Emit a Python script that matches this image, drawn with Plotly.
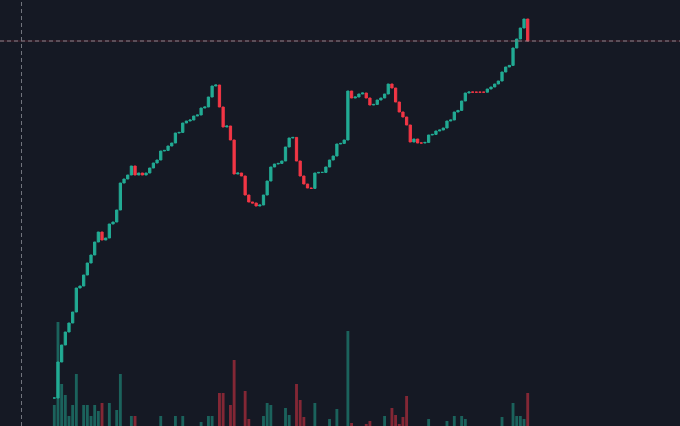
import plotly.graph_objects as go

# candle closes, one per bar (opens = previous close)
closes = [
    101.0, 119.0, 127.5, 134.0, 138.5, 144.0, 156.0, 157.0, 162.5, 168.5,
    172.5, 179.0, 184.0, 180.0, 181.0, 188.0, 189.0, 195.0, 208.5, 210.5,
    212.5, 217.0, 212.5, 213.5, 212.5, 213.5, 216.0, 218.5, 220.0, 224.5,
    224.8, 227.0, 228.5, 233.5, 233.8, 238.5, 239.5, 240.0, 242.0, 242.5,
    246.0, 246.5, 251.5, 257.0, 257.5, 246.5, 236.5, 237.0, 230.0, 213.0,
    213.5, 212.0, 202.5, 199.0, 198.5, 197.0, 197.5, 202.5, 209.5, 216.5,
    218.0, 218.3, 219.5, 226.5, 231.0, 231.3, 219.5, 212.0, 208.0, 206.0,
    205.8, 213.5, 213.8, 213.8, 216.5, 220.0, 222.0, 228.0, 228.3, 230.0,
    254.5, 251.0, 251.5, 253.0, 253.5, 251.0, 247.5, 247.8, 250.0, 251.0,
    253.0, 258.0, 256.0, 249.0, 244.0, 241.5, 237.5, 229.0, 230.5, 228.5,
    228.5, 228.8, 232.5, 232.8, 234.5, 235.0, 236.0, 239.5, 240.0, 244.0,
    244.8, 249.5, 253.5, 254.0, 253.9, 253.9, 253.9, 253.9, 255.5, 256.5,
    258.0, 259.5, 264.0, 266.5, 267.3, 276.0, 280.5, 286.0, 290.5, 279.5,
]
first_open = 101.0

volumes = [
    1080, 4400, 1920, 1480, 640, 1080, 2320, 150, 1080, 1080,
    640, 1080, 840, 1160, 120, 1160, 180, 880, 2320, 160,
    200, 640, 640, 120, 90, 140, 110, 170, 130, 640,
    100, 150, 120, 640, 110, 640, 130, 90, 160, 120,
    400, 140, 640, 640, 180, 1560, 1560, 200, 1080, 2880,
    170, 190, 1640, 520, 150, 210, 130, 640, 1160, 1080,
    160, 120, 190, 960, 680, 140, 1920, 1280, 600, 200,
    150, 1160, 130, 110, 170, 520, 200, 920, 140, 180,
    4040, 360, 120, 100, 150, 320, 440, 130, 180, 160,
    640, 200, 960, 680, 320, 600, 1440, 190, 170, 150,
    110, 130, 520, 140, 120, 160, 180, 440, 150, 640,
    130, 640, 520, 150, 100, 90, 110, 120, 140, 160,
    180, 200, 600, 150, 190, 1160, 640, 640, 520, 1560,
]

idx = list(range(len(closes)))
opens = [first_open] + closes[:-1]
highs = [max(o, c) for o, c in zip(opens, closes)]
lows = [min(o, c) for o, c in zip(opens, closes)]

UP = '#22ab94'
DOWN = '#f23645'
BG = '#151924'
vol_colors = ['rgba(34,171,148,0.5)' if c >= o else 'rgba(242,54,69,0.5)'
              for o, c in zip(opens, closes)]

fig = go.Figure()

# volume underneath
fig.add_bar(x=idx, y=volumes, marker=dict(color=vol_colors, line_width=0),
            width=0.78, yaxis='y2', hoverinfo='skip')

fig.add_candlestick(
    x=idx, open=opens, high=highs, low=lows, close=closes,
    increasing=dict(line=dict(color=UP, width=1), fillcolor=UP),
    decreasing=dict(line=dict(color=DOWN, width=1), fillcolor=DOWN),
    whiskerwidth=0,
)

# last price line
fig.add_hline(y=closes[-1], line=dict(color='rgba(242,54,69,0.25)', width=1))
fig.add_hline(y=closes[-1], line=dict(color='#85818c', width=1, dash='4px,3px'))
# crosshair vertical
fig.add_shape(type='line', xref='paper', yref='paper', x0=0.0316, x1=0.0316,
              y0=0, y1=1, line=dict(color='#73767f', width=1, dash='4px,3px'))

fig.update_layout(
    width=680, height=426,
    margin=dict(l=0, r=0, t=0, b=0),
    paper_bgcolor=BG, plot_bgcolor=BG,
    showlegend=False,
    boxgap=0.12,
    xaxis=dict(range=[-14.8, 170.5], visible=False, rangeslider=dict(visible=False)),
    yaxis=dict(range=[87, 300], visible=False),
    yaxis2=dict(range=[240, 17280], visible=False, overlaying='y'),
)

# no page margin round the figure
fig.write_html('out.html', config={'displayModeBar': False},
               post_script=f"document.body.style.margin='0';"
                           f"document.body.style.background='{BG}';")
